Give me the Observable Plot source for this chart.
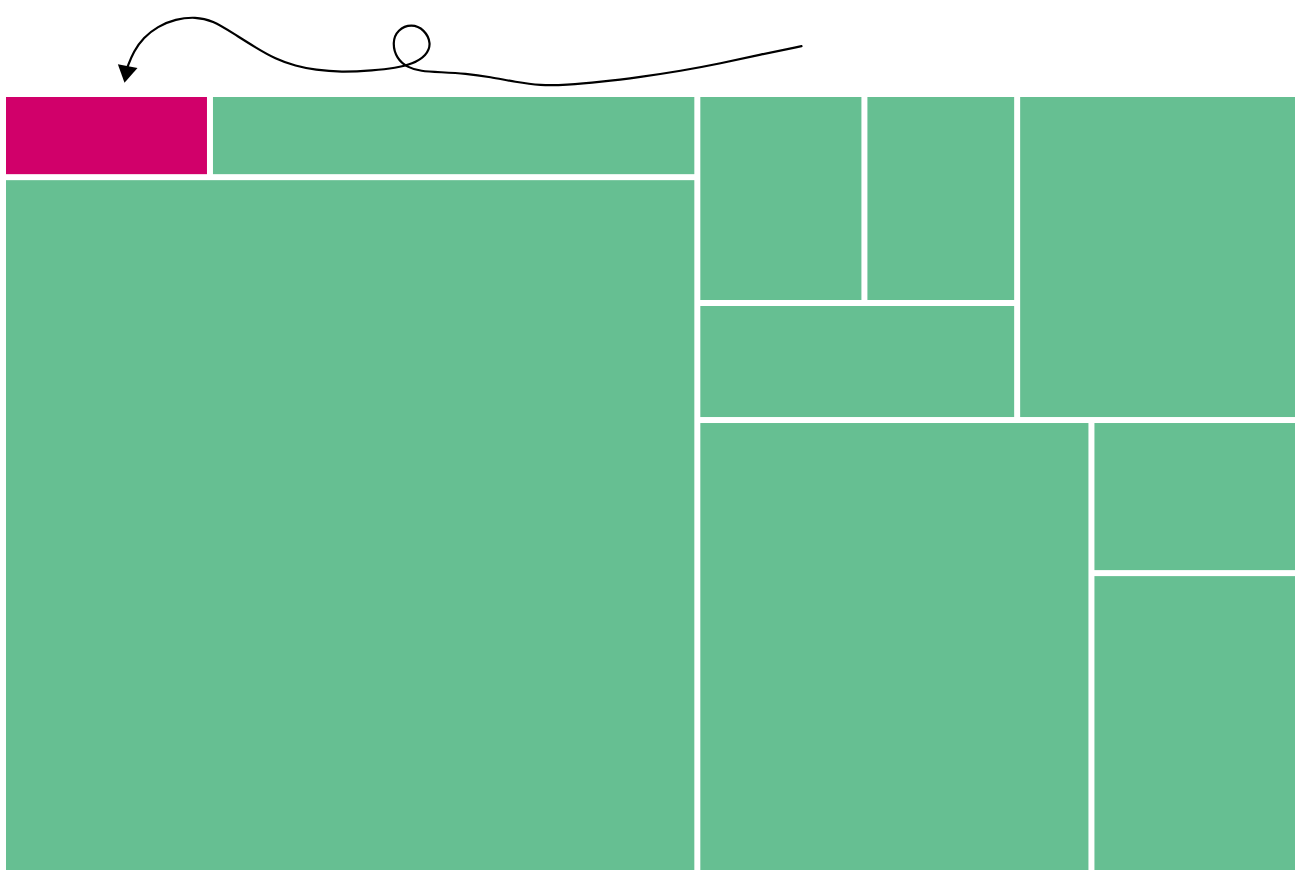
<!DOCTYPE html>
<html>
<head>
<meta charset="utf-8">
<script src="https://cdn.jsdelivr.net/npm/d3@7"></script>
<script src="https://cdn.jsdelivr.net/npm/@observablehq/plot@0.6"></script>
<style>
  html, body { margin: 0; padding: 0; background: #ffffff; }
  #chart svg { display: block; }
</style>
</head>
<body>
<div id="chart"></div>
<script>
// ---- Data: hierarchy nodes (id, parent, value) ----
const nodeIds   = ["root","L","L1","a","b","c","R","T","T1","T1a","d","e","f","g","B","h","B2","i","j"];
const parentIds = ["","root","L","L1","L1","L","root","R","T","T1","T1a","T1a","T1","T","R","B","B","B2","B2"];
const nodeValues = [0,0,0,17.2,40.5,482.8,0,0,0,0,34.9,31.9,37.4,91.5,0,178.4,0,31.6,61.9];
const highlightId = "a";

// Annotation curve (chart data space); last point is the arrow tip
const annotX = [795,754,714,674,634,594,559,534,509,484,459,434,414,401,390,385.7,391,405,418,425,420,406,389,367,334,309,289,269,249,227,206,189,169,151,137,127,121,118];
const annotY = [-51.3,-43,-34,-26.5,-20.5,-15.5,-12.5,-12,-15.5,-20.5,-24,-25.3,-26.3,-30,-39,-55,-68,-73.7,-68,-54,-42,-33.5,-29.5,-27,-25.3,-27.5,-31.5,-38.5,-50,-64,-77,-80.7,-78.5,-71,-60,-46,-30.5,-14.7];

const green = "#66bf92";
const magenta = "#d1006a";

const W = 1289, H = 773;

const table = nodeIds.map((id, i) => ({id, parent: parentIds[i] || null, value: nodeValues[i]}));
const root = d3.stratify().id(d => d.id).parentId(d => d.parent)(table);
root.sum(d => d.value);
d3.treemap().tile(d3.treemapSliceDice).size([W, H]).paddingInner(6)(root);
const leaves = root.leaves().map(n => ({id: n.id, x0: n.x0, x1: n.x1, y0: n.y0, y1: n.y1}));

const annot = annotX.map((x, i) => ({x, y: annotY[i]}));
const n = annot.length;
const tip = annot[n - 1], base = annot[n - 2];
const dx = tip.x - base.x, dy = tip.y - base.y;
const rot = Math.atan2(-dx, dy) * 180 / Math.PI;
// filled arrowhead: tip at origin, pointing down
const arrowHead = {
  draw(ctx) {
    ctx.moveTo(0, 0);
    ctx.lineTo(-10, -17);
    ctx.lineTo(10, -17);
    ctx.closePath();
  }
};

const chart = Plot.plot({
  width: 1300,
  height: 876,
  margin: 0,
  x: {domain: [-6, 1294], range: [0, 1300], axis: null},
  y: {domain: [-97, 779], range: [0, 876], axis: null},
  marks: [
    Plot.rect(leaves, {
      x1: "x0", x2: "x1", y1: "y0", y2: "y1",
      fill: d => d.id === highlightId ? magenta : green
    }),
    Plot.line(annot.slice(0, n - 1), {x: "x", y: "y", stroke: "black", strokeWidth: 2.2, curve: "basis"}),
    Plot.dot([tip], {x: "x", y: "y", symbol: arrowHead, r: 8, fill: "black", stroke: "none", rotate: rot})
  ]
});
document.getElementById("chart").append(chart);
</script>
</body>
</html>
